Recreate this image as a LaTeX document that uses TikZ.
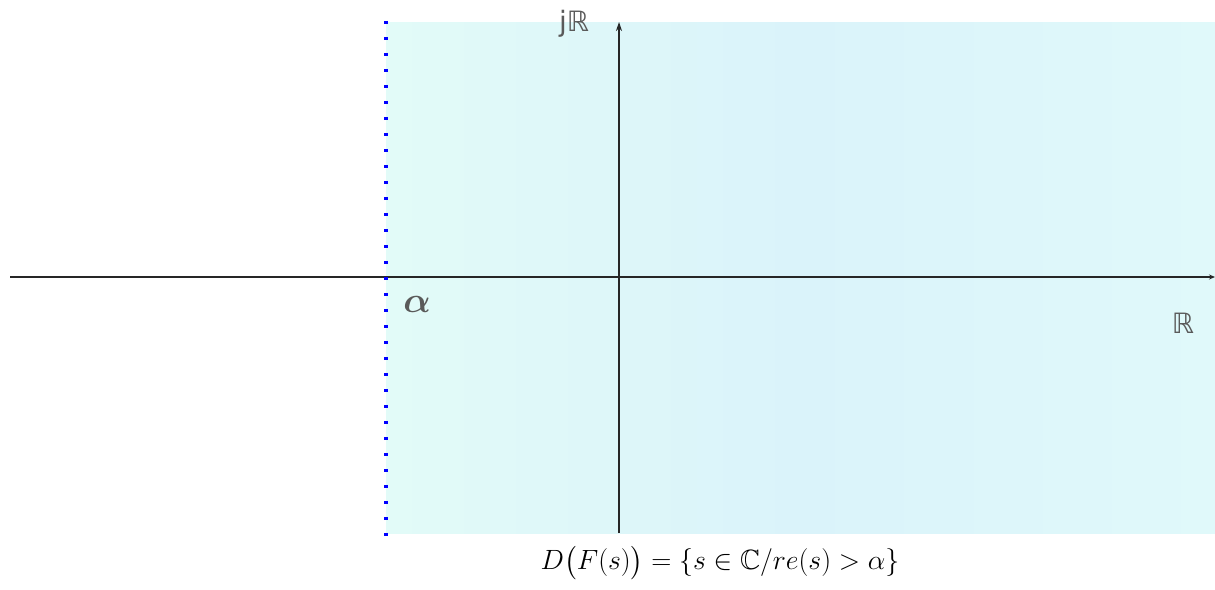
\documentclass[tikz,border=0pt]{standalone}
\usepackage{amsmath,amssymb,bm}
\usepackage{fontspec}
\newfontfamily\dvs{DejaVu Sans}
\usetikzlibrary{arrows.meta}
\definecolor{regL}{RGB}{226,251,248}
\definecolor{regM}{RGB}{218,243,250}
\definecolor{regR}{RGB}{224,249,250}
\definecolor{lbl}{RGB}{90,90,90}
\tikzset{
  axis/.style={line width=1.4pt, draw=black!85, -{Stealth[length=9pt,width=6pt]}},
  bound/.style={blue, line width=3.6pt, dash pattern=on 3.6pt off 12.4pt},
  lab/.style={text=lbl, inner sep=0pt}
}
\begin{document}
\begin{tikzpicture}[x=1pt,y=-1pt]
\useasboundingbox (0,0) rectangle (1215,589);
\fill[left color=regL, right color=regM] (386,22) rectangle (800,533);
\fill[left color=regM, right color=regR] (800,22) rectangle (1215,533);
\coordinate (xl) at (10,277);
\coordinate (xr) at (1215,277);
\coordinate (yb) at (619,533);
\coordinate (yt) at (619,22);
\coordinate (bt) at (386,20.8);
\coordinate (bb) at (386,540);
\draw[axis,-{Stealth[length=6pt,width=5pt]}] (xl) -- (xr);
\draw[axis] (yb) -- (yt);
\draw[bound] (bt) -- (bb);
\node[lab, font=\dvs\fontsize{28}{28}\selectfont] (jr) at (574,24) {jℝ};
\node[lab, font=\fontsize{24.88}{28}\selectfont] (al) at (417,304) {\scalebox{1.45}{$\bm{\alpha}$}};
\node[lab, font=\dvs\fontsize{28}{28}\selectfont] (re) at (1183,323) {ℝ};
\node[inner sep=0pt, font=\fontsize{24.88}{28}\selectfont] (dom) at (720,563) {\scalebox{1.12}{$D\big(F(s)\big)=\{s\in\mathbb{C}/re(s)>\alpha\}$}};
\end{tikzpicture}
\end{document}
